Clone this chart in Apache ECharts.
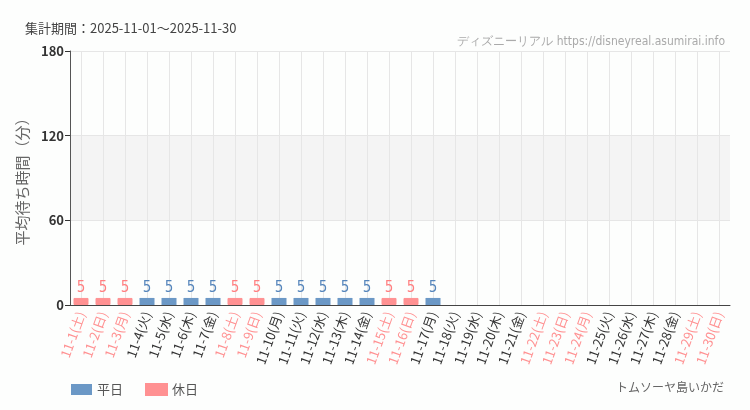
<!DOCTYPE html>
<html>
<head>
<meta charset="utf-8">
<script src="https://cdn.jsdelivr.net/npm/echarts@6/dist/echarts.min.js"></script>
<style>
  html, body { margin: 0; padding: 0; background: #fdfefd; }
  #main { width: 750px; height: 410px; }
</style>
</head>
<body>
<div id="main"></div>
<script>
  // 日付ラベル
  const days = [
    '11-1(土)', '11-2(日)', '11-3(月)', '11-4(火)', '11-5(水)', '11-6(木)', '11-7(金)',
    '11-8(土)', '11-9(日)', '11-10(月)', '11-11(火)', '11-12(水)', '11-13(木)', '11-14(金)',
    '11-15(土)', '11-16(日)', '11-17(月)', '11-18(火)', '11-19(水)', '11-20(木)', '11-21(金)',
    '11-22(土)', '11-23(日)', '11-24(月)', '11-25(火)', '11-26(水)', '11-27(木)', '11-28(金)',
    '11-29(土)', '11-30(日)'
  ];
  // 休日フラグ (1 = 休日)
  const holiday = [
    1, 1, 1, 0, 0, 0, 0,
    1, 1, 0, 0, 0, 0, 0,
    1, 1, 0, 0, 0, 0, 0,
    1, 1, 1, 0, 0, 0, 0,
    1, 1
  ];
  // 平均待ち時間 (分)、データなしは null
  const waits = [
    5, 5, 5, 5, 5, 5, 5,
    5, 5, 5, 5, 5, 5, 5,
    5, 5, 5, null, null, null, null,
    null, null, null, null, null, null, null,
    null, null
  ];
  const yTicks = [0, 60, 120, 180];

  const blue = '#6b98c6';
  const pink = '#ff9192';
  const narrow = "'DejaVu Sans Condensed', 'DejaVu Sans', sans-serif";

  const weekdayData = waits.map((v, i) => (holiday[i] ? null : v));
  const holidayData = waits.map((v, i) => (holiday[i] ? v : null));

  const chart = echarts.init(document.getElementById('main'));

  // 棒の上の数値
  const barLabel = (color) => ({
    show: true,
    position: 'top',
    distance: 2,
    color: color,
    fontSize: 15,
    fontFamily: narrow
  });

  const option = {
    backgroundColor: '#fdfefd',
    animation: false,
    textStyle: { fontFamily: 'Noto Sans CJK JP' },
    title: [
      {
        text: '集計期間：2025-11-01～2025-11-30',
        left: 20, top: 17,
        textStyle: { fontSize: 13, fontWeight: 'normal', color: '#444' }
      },
      {
        text: 'ディズニーリアル https://disneyreal.asumirai.info',
        right: 20, top: 31,
        textStyle: { fontSize: 12, fontWeight: 'normal', color: '#aaa', fontFamily: narrow }
      },
      {
        text: 'トムソーヤ島いかだ',
        right: 21, top: 376,
        textStyle: { fontSize: 12, fontWeight: 'normal', color: '#666' }
      }
    ],
    legend: {
      left: 66, top: 378,
      itemWidth: 21, itemHeight: 11, itemGap: 22,
      icon: 'rect',
      textStyle: { fontSize: 13, color: '#555' },
      data: ['平日', '休日']
    },
    grid: { left: 70, right: 20, top: 51, bottom: 105, containLabel: false },
    xAxis: {
      type: 'category',
      data: days,
      axisLine: { lineStyle: { color: '#444' } },
      axisTick: { alignWithLabel: true, length: 5, lineStyle: { color: '#222' } },
      splitLine: { show: true, alignWithLabel: true, lineStyle: { color: '#e6e6e6' } },
      axisLabel: {
        interval: 0,
        rotate: 70,
        fontSize: 13,
        margin: 7,
        color: (value, index) => (holiday[index] ? pink : '#333')
      }
    },
    yAxis: {
      type: 'value',
      min: yTicks[0],
      max: yTicks[yTicks.length - 1],
      interval: 60,
      name: '平均待ち時間（分）',
      nameLocation: 'middle',
      nameGap: 36,
      nameTextStyle: { fontSize: 15, color: '#666', padding: [0, 0, -6, 0] },
      axisLine: { show: true, lineStyle: { color: '#555' } },
      axisTick: { show: true, length: 5, lineStyle: { color: '#333' } },
      axisLabel: { fontSize: 13, color: '#333', fontWeight: 'bold', margin: 6 },
      splitLine: { show: true, lineStyle: { color: '#e6e6e6' } },
      splitArea: { show: true, areaStyle: { color: ['rgba(0,0,0,0)', '#f4f4f4', 'rgba(0,0,0,0)'] } }
    },
    series: [
      {
        name: '平日',
        type: 'bar',
        data: weekdayData,
        barWidth: 15,
        barGap: '-100%',
        itemStyle: { color: blue },
        label: barLabel('#5585bb')
      },
      {
        name: '休日',
        type: 'bar',
        data: holidayData,
        barWidth: 15,
        barGap: '-100%',
        itemStyle: { color: pink, borderColor: pink, borderWidth: 1 },
        label: barLabel('#ff7f80')
      }
    ]
  };

  chart.setOption(option);
</script>
</body>
</html>
